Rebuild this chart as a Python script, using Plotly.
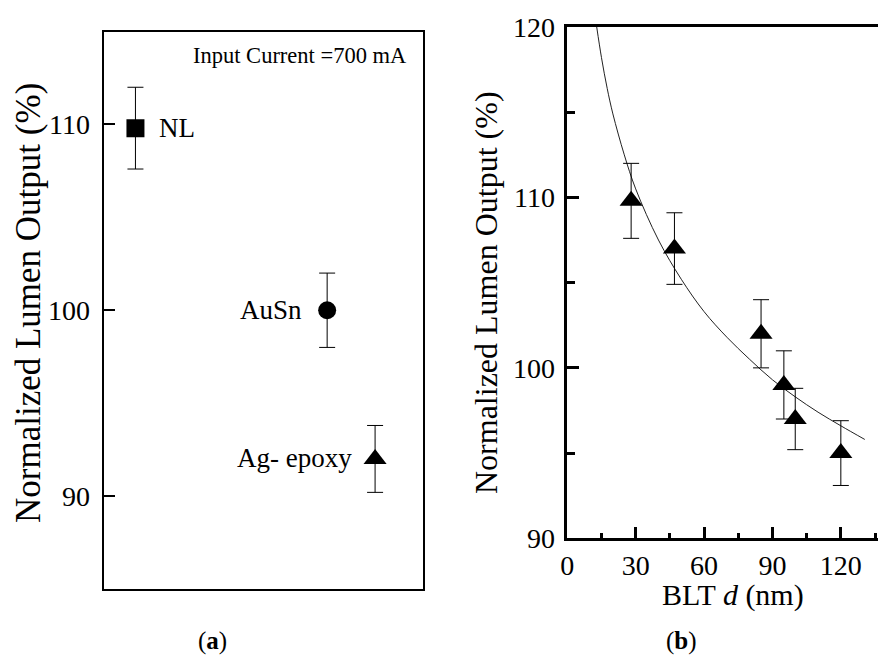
import plotly.graph_objects as go

# ---- Panel (a): bonding materials ----
mat_names = ["NL", "AuSn", "Ag- epoxy"]
mat_x = [1, 7, 8.5]
mat_y = [109.8, 100.0, 92.0]
mat_err = [2.2, 2.0, 1.8]
mat_symbols = ["square", "circle", "triangle-up"]
mat_sizes = [18, 18, 20]

# ---- Panel (b): bond line thickness ----
blt_d = [28, 47, 85, 95, 100, 120]
blt_y = [109.8, 107.0, 102.0, 99.0, 97.0, 95.0]
blt_err = [2.2, 2.1, 2.0, 2.0, 1.8, 1.9]

# fitted curve
fit_d = [12.9, 15, 17.5, 20, 25, 30, 40, 50, 60, 70, 80, 90, 100, 110, 120, 130.5]
fit_y = [120.0, 118.2, 116.4, 114.9, 112.5, 110.5, 107.5, 105.2, 103.3, 101.8,
         100.5, 99.3, 98.3, 97.4, 96.6, 95.8]

W, H = 878, 655
FONT = "Liberation Serif, Times New Roman, serif"

def px(x):
    return x / W

def py(y):
    return 1 - y / H

fig = go.Figure()

for name, x, y, e, s, sz in zip(mat_names, mat_x, mat_y, mat_err, mat_symbols, mat_sizes):
    fig.add_trace(go.Scatter(
        x=[x], y=[y], mode="markers", xaxis="x", yaxis="y",
        marker=dict(symbol=s, size=sz, color="black"),
        error_y=dict(type="data", array=[e], color="black", thickness=1, width=8),
        showlegend=False, name=name))

fig.add_trace(go.Scatter(
    x=fit_d, y=fit_y, mode="lines", xaxis="x2", yaxis="y2",
    line=dict(color="#222222", width=1, shape="spline"), showlegend=False))

fig.add_trace(go.Scatter(
    x=blt_d, y=blt_y, mode="markers", xaxis="x2", yaxis="y2",
    marker=dict(symbol="triangle-up", size=20, color="black"),
    error_y=dict(type="data", array=blt_err, color="black", thickness=1, width=8),
    showlegend=False))

tickfont = dict(family=FONT, size=28, color="black")

fig.update_layout(
    width=W, height=H,
    margin=dict(l=0, r=0, t=0, b=0, autoexpand=False),
    paper_bgcolor="white", plot_bgcolor="white",
    font=dict(family=FONT, color="black"),
    xaxis=dict(domain=[px(103.5), px(423)], range=[0, 10], automargin=False,
               showticklabels=False, ticks="", showgrid=False, zeroline=False,
               showline=True, mirror=True, linecolor="black", linewidth=2),
    yaxis=dict(domain=[py(589), py(31.5)], range=[85, 115], automargin=False,
               tickvals=[90, 100, 110], ticks="inside", ticklen=11, tickwidth=2,
               tickcolor="black", tickfont=tickfont, showgrid=False, zeroline=False,
               showline=True, mirror=True, linecolor="black", linewidth=2,
               ticklabelstandoff=6),
    xaxis2=dict(domain=[px(567.3), 1.0], range=[0, 136.3], anchor="y2", automargin=False,
                tickvals=[0, 30, 60, 90, 120], ticks="inside", ticklen=12, tickwidth=2.5,
                tickcolor="black", tickfont=tickfont, showgrid=False, zeroline=False,
                showline=True, mirror=True, linecolor="black", linewidth=2.5,
                minor=dict(tick0=15, dtick=30, ticks="inside", ticklen=6,
                           tickwidth=2.5, tickcolor="black", showgrid=False)),
    yaxis2=dict(domain=[py(538.3), py(27)], range=[90, 120], anchor="x2", automargin=False,
                tickvals=[90, 100, 110, 120], ticks="inside", ticklen=12, tickwidth=2.5,
                tickcolor="black", tickfont=tickfont, showgrid=False, zeroline=False,
                showline=True, mirror=False, linecolor="black", linewidth=2.5,
                ticklabelstandoff=4,
                minor=dict(tickvals=[95, 105, 115], ticks="inside", ticklen=8,
                           tickwidth=2.5, tickcolor="black", showgrid=False)),
)

ann = []
# point labels, panel (a)
ann.append(dict(text="NL", x=1, y=109.8, xref="x", yref="y", xanchor="left",
                yanchor="middle", xshift=22, showarrow=False,
                font=dict(family=FONT, size=27)))
ann.append(dict(text="AuSn", x=7, y=100.0, xref="x", yref="y", xanchor="right",
                yanchor="middle", xshift=-23, showarrow=False,
                font=dict(family=FONT, size=27)))
ann.append(dict(text="Ag- epoxy", x=8.5, y=92.0, xref="x", yref="y", xanchor="right",
                yanchor="middle", xshift=-21, yshift=1, showarrow=False,
                font=dict(family=FONT, size=27)))


def paper_text(text, x, y, size, angle=0):
    return dict(text=text, x=px(x), y=py(y), xref="paper", yref="paper",
                xanchor="center", yanchor="middle", textangle=angle,
                showarrow=False, font=dict(family=FONT, size=size))


ann.append(paper_text("Input Current =700 mA", 300, 56, 22.5))
# axis titles
ann.append(paper_text("Normalized Lumen Output (%)", 28, 303, 35, -90))
ann.append(paper_text("Normalized Lumen Output (%)", 486, 293, 32, -90))
ann.append(paper_text("BLT <i>d</i> (nm)", 732.5, 595, 30))
# panel labels
ann.append(paper_text("(<b>a</b>)", 212, 641, 25))
ann.append(paper_text("(<b>b</b>)", 681, 641, 25))

fig.update_layout(annotations=ann)

fig.write_html("out.html")
